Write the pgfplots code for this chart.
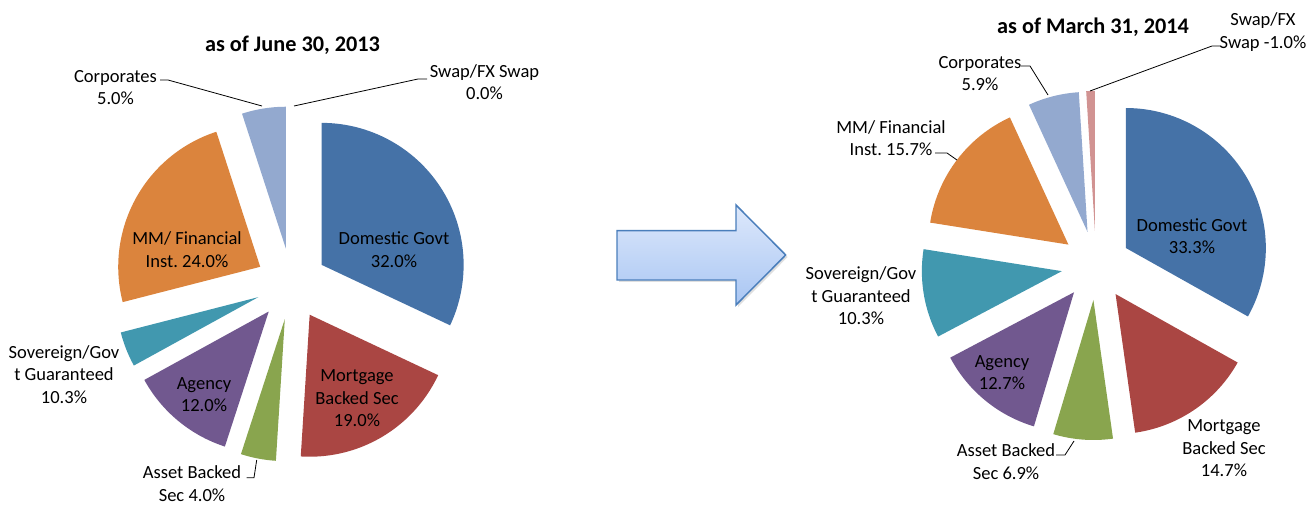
\documentclass[border=0pt]{standalone}
\usepackage{fontspec}
\setmainfont{Carlito}
\usepackage{pgfplots}
\usepackage{pgfplotstable}
\pgfplotsset{compat=1.18}
\usetikzlibrary{shadows}
\frenchspacing

\definecolor{domblue}{HTML}{4572A7}
\definecolor{mortred}{HTML}{AA4643}
\definecolor{assetgreen}{HTML}{89A54E}
\definecolor{agencypurple}{HTML}{71588F}
\definecolor{sovteal}{HTML}{4198AF}
\definecolor{mmorange}{HTML}{DB843D}
\definecolor{corpblue}{HTML}{93A9CF}
\definecolor{swappink}{HTML}{D19392}
\definecolor{arrowtop}{HTML}{DDE8FB}
\definecolor{arrowbot}{HTML}{A9C6F3}
\definecolor{arrowedge}{HTML}{4A7EBB}

\tikzset{
  lbl/.style={font=\fontsize{13.9}{16.9}\selectfont, align=center, inner sep=0pt},
  ttl/.style={font=\fontsize{16.7}{20}\selectfont\bfseries, inner sep=0pt},
  lead/.style={black, line width=0.6pt},
}

% shares drawn clockwise from 12 o'clock; the left Sovereign wedge is drawn at 4.0
\pgfplotstableread{
val col
32.0 domblue
19.0 mortred
4.0 assetgreen
12.0 agencypurple
4.0 sovteal
24.0 mmorange
5.0 corpblue
0.0 swappink
}\juneshares

\pgfplotstableread{
val col
33.3 domblue
14.7 mortred
6.9 assetgreen
12.7 agencypurple
10.3 sovteal
15.7 mmorange
5.9 corpblue
-1.0 swappink
}\marchshares

% #1 table, #2 cx, #3 cy, #4 radius, #5 explosion
\newcommand\drawpie[5]{%
  \pgfplotstablegetrowsof{#1}%
  \pgfmathtruncatemacro\nlast{\pgfplotsretval-1}%
  \def\pietotal{0}%
  \pgfplotsforeachungrouped \rowi in {0,...,\nlast}{%
    \pgfplotstablegetelem{\rowi}{val}\of{#1}%
    \pgfmathsetmacro\pietotal{\pietotal+abs(\pgfplotsretval)}%
  }%
  \def\piecum{0}%
  \pgfplotsforeachungrouped \rowi in {0,...,\nlast}{%
    \pgfplotstablegetelem{\rowi}{val}\of{#1}%
    \pgfmathsetmacro\av{abs(\pgfplotsretval)}%
    \pgfplotstablegetelem{\rowi}{col}\of{#1}%
    \let\wc\pgfplotsretval
    \pgfmathsetmacro\wa{90-\piecum/\pietotal*360}%
    \pgfmathsetmacro\wb{90-(\piecum+\av)/\pietotal*360}%
    \pgfmathsetmacro\wx{#2+#5*cos((\wa+\wb)/2)}%
    \pgfmathsetmacro\wy{#3+#5*sin((\wa+\wb)/2)}%
    \ifdim\av pt>0.001pt
      \edef\wcmd{\noexpand\addplot[fill=\wc, draw=none, mark=none,
        domain=\wb:\wa, samples=60] ({\wx+#4*cos(x)}, {\wy+#4*sin(x)})
        -- (\wx,\wy) -- cycle;}%
      \wcmd
    \fi
    \pgfmathsetmacro\piecum{\piecum+\av}%
  }%
}

\begin{document}
\begin{tikzpicture}
\begin{axis}[
    hide axis, scale only axis,
    width=986.25pt, height=378pt,
    xmin=0, xmax=1315, ymin=0, ymax=504,
    clip=false,
]
\path (0,0) -- (1315,504);

\drawpie{\juneshares}{291.5}{220}{142}{35.7}
\drawpie{\marchshares}{1096}{238.5}{140}{34.6}

% arrow
\draw[arrowedge, line width=1.1pt, top color=arrowtop, bottom color=arrowbot,
      drop shadow={shadow xshift=1.5pt, shadow yshift=-1.5pt, opacity=0.25}]
  (617,273.3) -- (736,273.3) -- (736,299) -- (785.7,249)
  -- (736,199) -- (736,224) -- (617,224) -- cycle;

% left chart text
\node[ttl] at (292.5,459) {as of June 30, 2013};
\node[lbl] at (115.5,416.5) {Corporates\\5.0\%};
\node[lbl] at (484.5,422) {Swap/FX Swap\\0.0\%};
\node[lbl] at (394,254.5) {Domestic Govt\\32.0\%};
\node[lbl] at (187,254.5) {MM/ Financial\\Inst. 24.0\%};
\node[lbl] at (357,105.5) {Mortgage\\Backed Sec\\19.0\%};
\node[lbl] at (204,109.5) {Agency\\12.0\%};
\node[lbl] at (64,129.5) {Sovereign/Gov\\t Guaranteed\\10.3\%};
\node[lbl] at (192,20.5) {Asset Backed\\Sec 4.0\%};
\draw[lead] (160,424) -- (168,424) -- (262,398);
\draw[lead] (294,398) -- (418,425) -- (427,425);
\draw[lead] (256.7,44) -- (254,26.3) -- (246.7,26.3);

% right chart text
\node[ttl] at (1093,477) {as of March 31, 2014};
\node[lbl] at (1263,472) {Swap/FX\\Swap -1.0\%};
\node[lbl] at (980,430.5) {Corporates\\5.9\%};
\node[lbl] at (891,366) {MM/ Financial\\Inst. 15.7\%};
\node[lbl] at (861,208.3) {Sovereign/Gov\\t Guaranteed\\10.3\%};
\node[lbl] at (1192,268) {Domestic Govt\\33.3\%};
\node[lbl] at (1002,131.5) {Agency\\12.7\%};
\node[lbl] at (1006,42.5) {Asset Backed\\Sec 6.9\%};
\node[lbl] at (1224,55.5) {Mortgage\\Backed Sec\\14.7\%};
\draw[lead] (1090,413) -- (1212,458) -- (1221,458);
\draw[lead] (1048,409) -- (1030,438) -- (1021,438);
\draw[lead] (957,344) -- (947,351) -- (935,351);
\draw[lead] (1074,63) -- (1065,49) -- (1056,49);
\end{axis}
\end{tikzpicture}
\end{document}
